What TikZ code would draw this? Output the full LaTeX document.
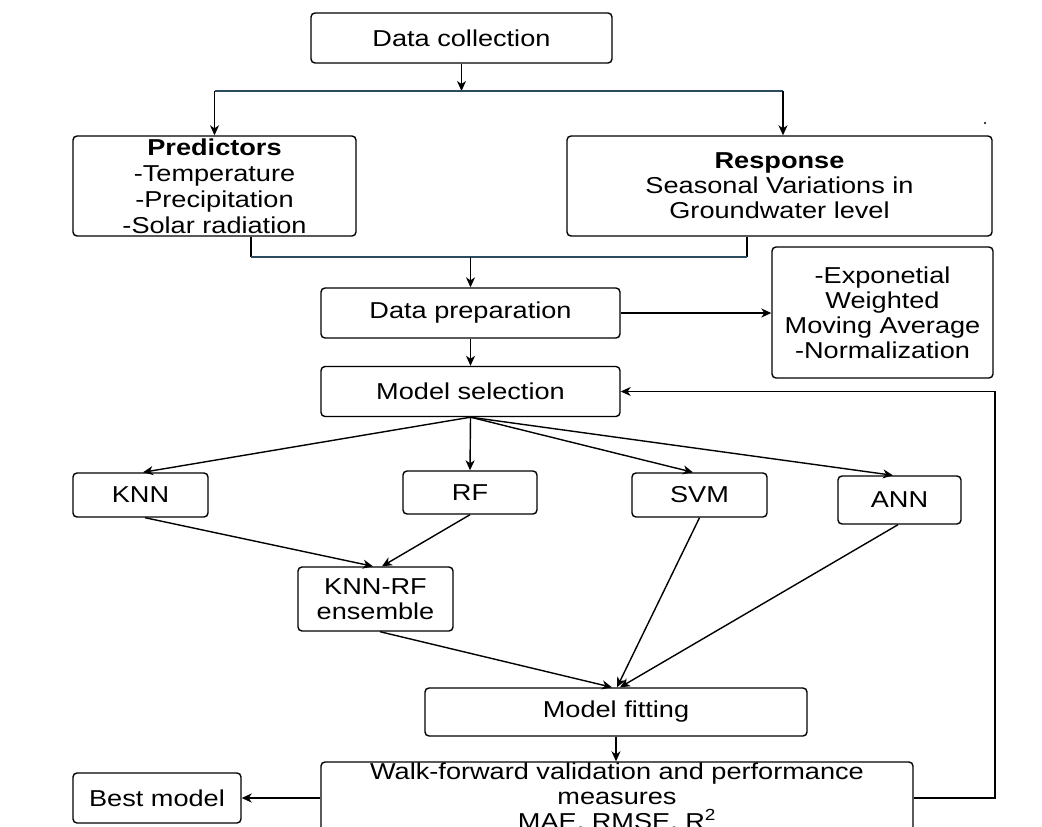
\documentclass[tikz,border=0pt]{standalone}
\usepackage{fontspec}
\setmainfont{Liberation Sans}[FakeStretch=1.18]
\usetikzlibrary{arrows.meta}
\definecolor{splitline}{RGB}{45,75,95}
\begin{document}
\begin{tikzpicture}[x=1pt,y=-1pt,
  box/.style={draw, rounded corners=4pt, line width=1.4pt, align=center, inner sep=0pt,
    font=\fontsize{23}{25}\selectfont},
  conn/.style={line width=1.4pt, -{Stealth[length=10pt,width=9pt,inset=3pt]}},
  plain/.style={line width=1.4pt}]
\clip (0,0) rectangle (1042,827);
\fill[white] (0,0) rectangle (1042,827);
% nodes
\node[box, minimum width=301pt, minimum height=50pt] (dc) at (461.5,38) {Data collection};
\node[box, minimum width=283pt, minimum height=100pt, font=\fontsize{23}{26}\selectfont] (pred) at (214.5,186)
  {\textbf{Predictors}\\-Temperature\\-Precipitation\\-Solar radiation};
\node[box, minimum width=425pt, minimum height=100pt] (resp) at (779.5,186)
  {\textbf{Response}\\Seasonal Variations in\\Groundwater level};
\node[box, minimum width=299pt, minimum height=50pt] (dp) at (470.5,313) {Data preparation};
\node[box, minimum width=221pt, minimum height=131pt] (ewma) at (882.5,312.5)
  {-Exponetial\\Weighted\\Moving Average\\-Normalization};
\node[box, minimum width=299pt, minimum height=50pt] (ms) at (470.5,391.5) {Model selection};
\node[box, minimum width=135pt, minimum height=44pt] (knn) at (140.5,495) {KNN};
\node[box, minimum width=134pt, minimum height=43pt] (rf) at (470,492.5) {RF};
\node[box, minimum width=135pt, minimum height=44pt] (svm) at (699.5,495) {SVM};
\node[box, minimum width=123pt, minimum height=48pt] (ann) at (899.5,500) {ANN};
\node[box, minimum width=155pt, minimum height=64pt] (ens) at (375.5,599) {KNN-RF\\ensemble};
\node[box, minimum width=382pt, minimum height=48pt] (mf) at (616,712) {Model fitting};
\node[box, minimum width=592pt, minimum height=72pt] (wf) at (617,798)
  {Walk-forward validation and performance\\measures\\MAE, RMSE, R\textsuperscript{2}};
\node[box, minimum width=168pt, minimum height=50pt] (best) at (157,798) {Best model};
% split after data collection
\coordinate (sL) at (214.5,91);
\coordinate (sR) at (783,91);
\coordinate (sM) at (461.5,91);
\draw[conn] (dc.south) -- (sM);
\draw[plain, splitline] (sL) -- (sR);
\draw[conn] (sL) -- (pred.north);
\draw[conn] (sR) -- (sR |- resp.north);
% merge into data preparation
\coordinate (mL) at (251,257);
\coordinate (mR) at (747,257);
\draw[plain] (pred.south -| mL) -- (mL);
\draw[plain] (resp.south -| mR) -- (mR);
\draw[plain, splitline] (mL) -- (mR);
\draw[conn] (dp.north |- mL) -- (dp.north);
% data preparation
\draw[conn] (dp.east) -- (dp.east -| ewma.west);
\draw[conn] (dp.south) -- (ms.north);
% model selection branches
\draw[conn] (ms.south) -- ([xshift=2.5pt]knn.north);
\draw[conn] (ms.south) -- (rf.north);
\draw[conn] (ms.south) -- ([xshift=-6.5pt]svm.north);
\draw[conn] (ms.south) -- ([xshift=-6.5pt]ann.north);
% ensemble
\draw[conn] ([xshift=4.5pt]knn.south) -- ([xshift=-2.5pt]ens.north);
\draw[conn] (rf.south) -- ([xshift=6.5pt]ens.north);
% into model fitting
\draw[conn] ([xshift=4.5pt]ens.south) -- ([xshift=-4pt]mf.north);
\draw[conn] (svm.south) -- ([xshift=1pt]mf.north);
\draw[conn] ([xshift=-1.5pt]ann.south) -- ([xshift=4pt]mf.north);
\draw[conn] (mf.south) -- (mf.south |- wf.north);
% outputs
\draw[conn] (wf.west) -- (best.east);
\coordinate (fb) at (995,798);
\draw[conn] (wf.east) -- (fb) -- (fb |- ms.east) -- (ms.east);
% stray dot
\fill (985,123) circle (1.1pt);
\end{tikzpicture}
\end{document}
